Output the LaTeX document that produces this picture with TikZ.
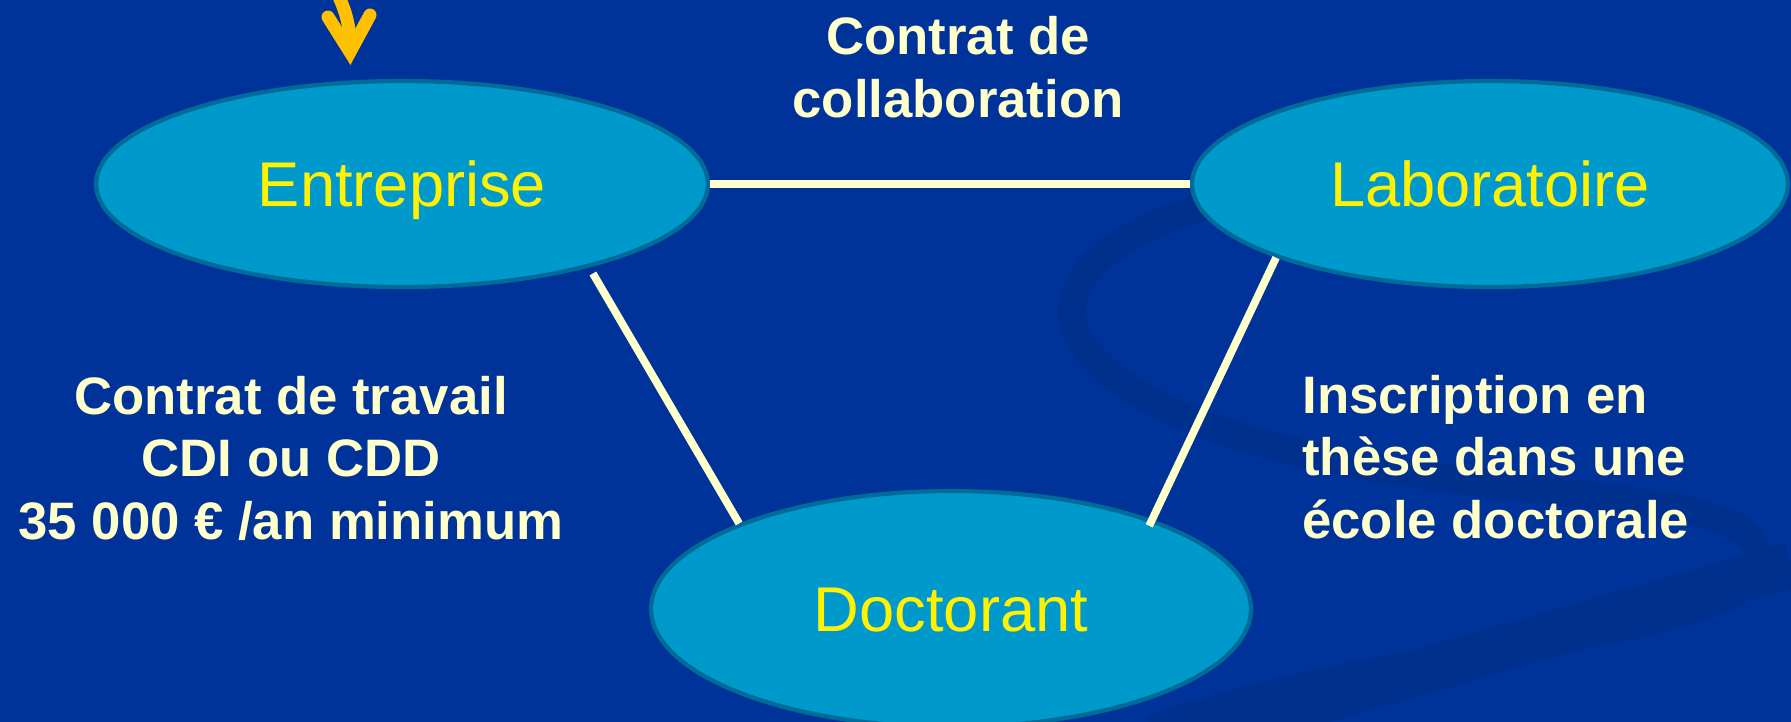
\documentclass[tikz,border=0pt]{standalone}
\usepackage{fontspec}
\setmainfont{Liberation Sans}
\usetikzlibrary{shapes.geometric}
\definecolor{fond}{HTML}{003399}
\definecolor{vague}{HTML}{00308E}
\definecolor{bulle}{HTML}{0099CC}
\definecolor{bordbulle}{HTML}{006B99}
\definecolor{creme}{HTML}{FFFFCC}
\definecolor{fleche}{HTML}{FFC000}
\begin{document}
\begin{tikzpicture}[x=0.02cm,y=-0.02cm,
    acteur/.style={ellipse,fill=bulle,draw=bordbulle,line width=2.4pt,inner sep=0pt,
        minimum height=4.12cm,text=yellow,text height=26pt,text depth=0pt,
        font=\fontsize{36}{40}\selectfont},
    lien/.style={draw=creme,line width=4.4pt},
    legende/.style={text=creme,inner sep=0pt,font=\bfseries\fontsize{30}{35.6}\selectfont}]
        \useasboundingbox (0,0) rectangle (1791,721);
        \fill[fond] (-10,-10) rectangle (1801,731);
        % fond decore
        \draw[vague,line width=16pt] (1210,205) .. controls (1020,260) and (1020,370) .. (1250,440) .. controls (1500,510) and (1770,480) .. (1758,565) .. controls (1745,640) and (1400,640) .. (1150,730);
        \draw[vague,line width=26pt] (1150,750) -- (1791,565);
        \draw[fleche,line width=7.4pt,line cap=round] (325,-30) .. controls (342,0) and (351,20) .. (350,50);
        \draw[fleche,line width=7.4pt,line cap=round,line join=miter] (328,17) -- (350,52) -- (370,15);
        % les trois partenaires
        \node[acteur,minimum width=12.24cm] (entreprise) at (402,184) {Entreprise};
        \node[acteur,minimum width=11.92cm] (labo) at (1490,184) {Laboratoire};
        \node[acteur,minimum width=12cm,minimum height=4.72cm] (doctorant) at (951,609) {Doctorant};
        \draw[lien] (entreprise.east) -- (labo.west);
        \draw[lien,shorten <=4pt] (entreprise.-24.5) -- (doctorant.158);
        \draw[lien,shorten >=-4pt] (labo.-161) -- (doctorant.24);
        \node[legende,align=center] (collab) at (958,67) {Contrat de\\collaboration};
        \node[legende,align=center] (travail) at (291,458) {Contrat de travail\\CDI ou CDD\\35 000 € /an minimum};
        \node[legende,align=left,anchor=west] (these) at (1302,457) {Inscription en\\thèse dans une\\école doctorale};
\end{tikzpicture}
\end{document}
